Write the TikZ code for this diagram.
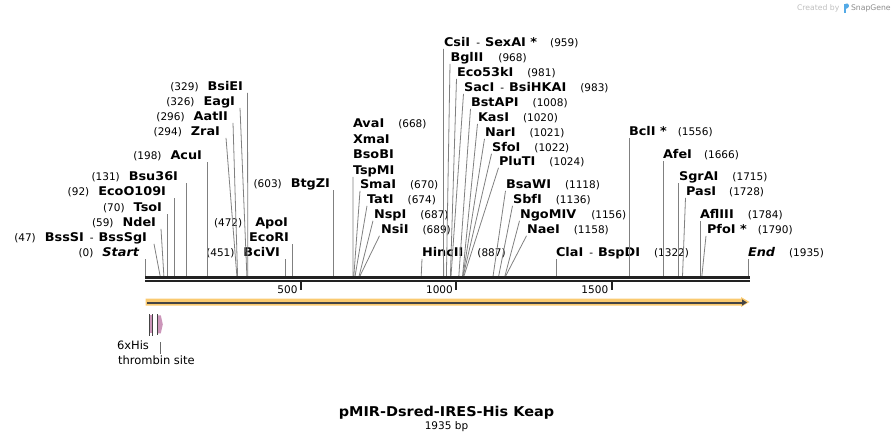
\documentclass[tikz,border=0pt]{standalone}
\usepackage{fontspec}
\setmainfont{DejaVu Sans}
\newfontfamily\widefont{DejaVu Sans}[FakeStretch=1.07]
\usetikzlibrary{arrows.meta}
\definecolor{sitegray}{RGB}{128,128,128}
\definecolor{seqblack}{RGB}{34,34,34}
\definecolor{featorange}{RGB}{250,202,112}
\definecolor{featdark}{RGB}{68,68,68}
\definecolor{featpink}{RGB}{204,150,186}
\definecolor{snapblue}{RGB}{84,170,230}
\newcommand{\enz}[1]{{\widefont\fontsize{12}{14}\selectfont\bfseries #1}}

\begin{document}
\begin{tikzpicture}[x=1pt,y=-1pt,inner sep=0pt,outer sep=0pt,
lab/.style={font=\fontsize{10.5}{12}\selectfont,text depth=2pt,inner ysep=0.5pt},
rlab/.style={lab,anchor=base west},
llab/.style={lab,anchor=base east},
cut/.style={draw=sitegray,line width=0.8pt},
seqline/.style={draw=seqblack},
featline/.style={draw=featdark,line width=0.9pt},
featlab/.style={font=\fontsize{11.5}{13}\selectfont,anchor=base west}]
\useasboundingbox (0,0) rectangle (894,442);

% created by
\node[anchor=base west,font=\fontsize{7.7}{9}\selectfont,text=black!25] (crt) at (797,10.3) {Created by};
\fill[snapblue] (843.5,3.5) rectangle (845.5,12.5);
\fill[snapblue] (845.5,3.5) -- (847.5,3.5) .. controls (850,5) and (849.5,8) .. (845.5,9) -- cycle;
\node[anchor=base west,font=\fontsize{7.7}{9}\selectfont,text=black!45] (snap) at (851,10.5) {SnapGene};

% sites on the sequence
\coordinate (s0) at (145.6,276.5); \coordinate (s47) at (160.2,276.5);
\coordinate (s59) at (163.9,276.5); \coordinate (s70) at (167.3,276.5);
\coordinate (s92) at (174.2,276.5); \coordinate (s131) at (186.3,276.5);
\coordinate (s198) at (207.1,276.5); \coordinate (s294) at (236.9,276.5);
\coordinate (s296) at (237.6,276.5); \coordinate (s326) at (246.9,276.5);
\coordinate (s329) at (247.8,276.5); \coordinate (s451) at (285.7,276.5);
\coordinate (s472) at (292.3,276.5); \coordinate (s603) at (333.0,276.5);
\coordinate (s668) at (353.1,276.5); \coordinate (s670) at (353.8,276.5);
\coordinate (s674) at (355.0,276.5); \coordinate (s687) at (359.0,276.5);
\coordinate (s689) at (359.7,276.5); \coordinate (s887) at (421.2,276.5);
\coordinate (s959) at (443.6,276.5); \coordinate (s968) at (446.4,276.5);
\coordinate (s981) at (450.4,276.5); \coordinate (s983) at (451.0,276.5);
\coordinate (s1008) at (458.8,276.5); \coordinate (s1020) at (462.5,276.5);
\coordinate (s1021) at (462.8,276.5); \coordinate (s1022) at (463.1,276.5);
\coordinate (s1024) at (463.8,276.5); \coordinate (s1118) at (493.0,276.5);
\coordinate (s1136) at (498.6,276.5); \coordinate (s1156) at (504.8,276.5);
\coordinate (s1158) at (505.4,276.5); \coordinate (s1322) at (556.3,276.5);
\coordinate (s1556) at (629.1,276.5); \coordinate (s1666) at (663.2,276.5);
\coordinate (s1715) at (678.4,276.5); \coordinate (s1728) at (682.5,276.5);
\coordinate (s1784) at (699.9,276.5); \coordinate (s1790) at (701.8,276.5);
\coordinate (s1935) at (748.3,276.5);

% labels left of their cut
\draw (139,256.3) node[llab] (startlab) {(0)\hspace{9pt}\enz{\itshape Start}};
\draw (147,241.3) node[llab] (bsssi) {(47)\hspace{9pt}\enz{BssSI}\hspace{6pt}-\hspace{5pt}\enz{BssSgI}};
\draw (156,226.3) node[llab] (ndei) {(59)\hspace{9pt}\enz{NdeI}};
\draw (162,211.3) node[llab] (tsoi) {(70)\hspace{9pt}\enz{TsoI}};
\draw (166,195.3) node[llab] (eco109) {(92)\hspace{9pt}\enz{EcoO109I}};
\draw (178,180.3) node[llab] (bsu36) {(131)\hspace{9pt}\enz{Bsu36I}};
\draw (202,159.3) node[llab] (acui) {(198)\hspace{9pt}\enz{AcuI}};
\draw (220,135.3) node[llab] (zrai) {(294)\hspace{9pt}\enz{ZraI}};
\draw (228,120.3) node[llab] (aatii) {(296)\hspace{9pt}\enz{AatII}};
\draw (235,105.3) node[llab] (eagi) {(326)\hspace{9pt}\enz{EagI}};
\draw (243,90.3) node[llab] (bsiei) {(329)\hspace{9pt}\enz{BsiEI}};
\draw (280,256.3) node[llab] (bcivi) {(451)\hspace{9pt}\enz{BciVI}};
\draw (288,226.3) node[llab] (apoi) {(472)\hspace{13pt}\enz{ApoI}};
\draw (289,241.3) node[llab] (ecori) {\enz{EcoRI}};
\draw (330,187.3) node[llab] (btgzi) {(603)\hspace{9pt}\enz{BtgZI}};

\draw[cut] (s0) -- (s0 |- startlab.south);
\draw[cut] (s47) -- ([xshift=7pt]bsssi.south east);
\draw[cut] (s59) -- ([xshift=5pt]ndei.south east);
\draw[cut] (s70) -- (s70 |- tsoi.south);
\draw[cut] (s92) -- (s92 |- eco109.south);
\draw[cut] (s131) -- (s131 |- bsu36.south);
\draw[cut] (s198) -- (s198 |- acui.south);
\draw[cut] (s294) -- ([xshift=6pt]zrai.south east);
\draw[cut] (s296) -- ([xshift=5pt]aatii.south east);
\draw[cut] (s326) -- ([xshift=5pt]eagi.south east);
\draw[cut] (s329) -- ([xshift=4.5pt]bsiei.south east);
\draw[cut] (s451) -- (s451 |- bcivi.south);
\draw[cut] (s472) -- (s472 |- ecori.south);
\draw[cut] (s603) -- (s603 |- btgzi.south);

% labels right of their cut
\draw (353,127.3) node[rlab] (avai) {\enz{AvaI}\hspace{14pt}(668)};
\draw (353,143.3) node[rlab] (xmai) {\enz{XmaI}};
\draw (353,158.3) node[rlab] (bsobi) {\enz{BsoBI}};
\draw (353,174.3) node[rlab] (tspmi) {\enz{TspMI}};
\draw (360,188.3) node[rlab] (smai) {\enz{SmaI}\hspace{14pt}(670)};
\draw (367,203.3) node[rlab] (tati) {\enz{TatI}\hspace{14pt}(674)};
\draw (374,218.3) node[rlab] (nspi) {\enz{NspI}\hspace{14pt}(687)};
\draw (381,233.3) node[rlab] (nsii) {\enz{NsiI}\hspace{14pt}(689)};
\draw (422,256.3) node[rlab] (hincii) {\enz{HincII}\hspace{14pt}(887)};
\draw (444,46.3) node[rlab] (csii) {\enz{CsiI}\hspace{6pt}-\hspace{5pt}\enz{SexAI *}\hspace{13pt}(959)};
\draw (450.5,61.3) node[rlab] (bglii) {\enz{BglII}\hspace{15pt}(968)};
\draw (457,76.3) node[rlab] (eco53) {\enz{Eco53kI}\hspace{14pt}(981)};
\draw (464,91.3) node[rlab] (saci) {\enz{SacI}\hspace{6pt}-\hspace{5pt}\enz{BsiHKAI}\hspace{14pt}(983)};
\draw (471,106.3) node[rlab] (bstapi) {\enz{BstAPI}\hspace{14pt}(1008)};
\draw (478,121.3) node[rlab] (kasi) {\enz{KasI}\hspace{14pt}(1020)};
\draw (485,136.3) node[rlab] (nari) {\enz{NarI}\hspace{14pt}(1021)};
\draw (492,151.3) node[rlab] (sfoi) {\enz{SfoI}\hspace{14pt}(1022)};
\draw (499,165.3) node[rlab] (pluti) {\enz{PluTI}\hspace{14pt}(1024)};
\draw (506,188.3) node[rlab] (bsawi) {\enz{BsaWI}\hspace{14pt}(1118)};
\draw (513,203.3) node[rlab] (sbfi) {\enz{SbfI}\hspace{14pt}(1136)};
\draw (520,218.3) node[rlab] (ngomiv) {\enz{NgoMIV}\hspace{15pt}(1156)};
\draw (527,233.3) node[rlab] (naei) {\enz{NaeI}\hspace{14pt}(1158)};
\draw (556,256.3) node[rlab] (clai) {\enz{ClaI}\hspace{6pt}-\hspace{5pt}\enz{BspDI}\hspace{14pt}(1322)};
\draw (629,135.3) node[rlab] (bcli) {\enz{BclI *}\hspace{11pt}(1556)};
\draw (663,158.3) node[rlab] (afei) {\enz{AfeI}\hspace{12pt}(1666)};
\draw (679,180.3) node[rlab] (sgrai) {\enz{SgrAI}\hspace{14pt}(1715)};
\draw (686,195.3) node[rlab] (pasi) {\enz{PasI}\hspace{13pt}(1728)};
\draw (700,218.3) node[rlab] (afliii) {\enz{AflIII}\hspace{14pt}(1784)};
\draw (707,233.3) node[rlab] (pfoi) {\enz{PfoI *}\hspace{11pt}(1790)};
\draw (748,256.3) node[rlab] (endlab) {\enz{\itshape End}\hspace{14pt}(1935)};

\draw[cut] (s668) -- (tspmi.south west);
\draw[cut] (s670) -- (smai.south west);
\draw[cut] (s674) -- (tati.south west);
\draw[cut] (s687) -- ([xshift=-1pt]nspi.south west);
\draw[cut] (s689) -- ([xshift=-1.5pt]nsii.south west);
\draw[cut] (s887) -- (hincii.south west);
\draw[cut] (s959) -- ([xshift=-0.5pt]csii.south west);
\draw[cut] (s968) -- ([xshift=-0.5pt]bglii.south west);
\draw[cut] (s981) -- ([xshift=-0.5pt]eco53.south west);
\draw[cut] (s983) -- ([xshift=-0.5pt]saci.south west);
\draw[cut] (s1008) -- ([xshift=-0.5pt]bstapi.south west);
\draw[cut] (s1020) -- ([xshift=-0.5pt]kasi.south west);
\draw[cut] (s1021) -- ([xshift=-0.5pt]nari.south west);
\draw[cut] (s1022) -- ([xshift=-0.5pt]sfoi.south west);
\draw[cut] (s1024) -- ([xshift=-0.5pt]pluti.south west);
\draw[cut] (s1118) -- ([xshift=-0.5pt]bsawi.south west);
\draw[cut] (s1136) -- ([xshift=-0.5pt]sbfi.south west);
\draw[cut] (s1156) -- ([xshift=-0.5pt]ngomiv.south west);
\draw[cut] (s1158) -- ([xshift=-0.5pt]naei.south west);
\draw[cut] (s1322) -- (s1322 |- clai.south);
\draw[cut] (s1556) -- (s1556 |- bcli.south);
\draw[cut] (s1666) -- (s1666 |- afei.south);
\draw[cut] (s1715) -- (s1715 |- sgrai.south);
\draw[cut] (s1728) -- ([xshift=-0.5pt]pasi.south west);
\draw[cut] (s1784) -- (s1784 |- afliii.south);
\draw[cut] (s1790) -- ([xshift=-1pt]pfoi.south west);
\draw[cut] (s1935) -- (s1935 |- endlab.south);

% sequence and ruler
\draw[seqline,line width=3pt] (145.3,277.5) -- (749.5,277.5);
\draw[seqline,line width=2pt] (145.3,281.2) -- (749.5,281.2);
\draw[seqline,line width=2pt] (301.0,281) -- (301.0,290);
\draw[seqline,line width=2pt] (456.3,281) -- (456.3,290);
\draw[seqline,line width=2pt] (611.7,281) -- (611.7,290);
\node[font=\fontsize{10.5}{12}\selectfont,anchor=base east] (t500) at (297.5,293) {500};
\node[font=\fontsize{10.5}{12}\selectfont,anchor=base east] (t1000) at (452.8,293) {1000};
\node[font=\fontsize{10.5}{12}\selectfont,anchor=base east] (t1500) at (608.2,293) {1500};

% features
\fill[featorange] (145.5,298.5) -- (741,298.5) -- (741,297) -- (749.5,302) -- (741,307) -- (741,305.5) -- (145.5,305.5) -- cycle;
\draw[featdark,line width=2pt,-{Triangle[length=5pt,width=6pt]}] (147,302.5) -- (747,302.5);

\fill[featpink] (149.8,315.3) rectangle (152.4,333.3);
\draw[featline] (149.4,314) -- (149.4,336);
\draw[featline] (152.7,314) -- (152.7,336);
\fill[featpink] (157.8,315.3) -- (160.8,315.3) -- (162.8,324.3) -- (160.8,333.3) -- (157.8,333.3) -- cycle;
\draw[featline] (157.4,314) -- (157.4,335);

\node[featlab] (hislab) at (117,349) {6xHis};
\node[featlab] (thrlab) at (118,364.3) {thrombin site};
\coordinate (thrtop) at (160.3,342);
\draw[draw=featdark!80,line width=0.7pt] (thrtop) -- ([yshift=2pt]thrlab.north -| thrtop);

% title
\node[font=\widefont\fontsize{13.5}{16}\selectfont\bfseries,anchor=base] (title) at (446.5,416.3) {pMIR-Dsred-IRES-His Keap};
\node[font=\fontsize{10.5}{12}\selectfont,anchor=base] (size) at (446.5,429.8) {1935 bp};

\end{tikzpicture}
\end{document}
